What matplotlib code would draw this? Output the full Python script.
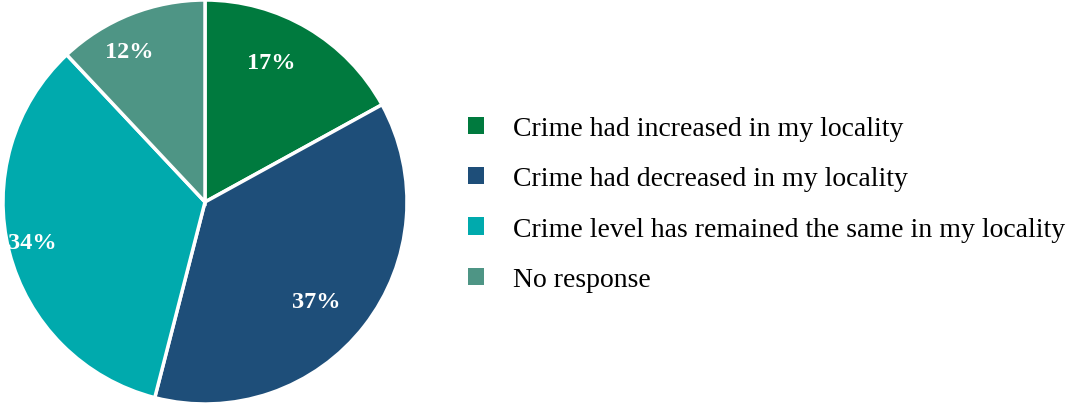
import matplotlib
matplotlib.use('Agg')
import matplotlib.pyplot as plt
from matplotlib.patches import Patch

labels = ['Crime had increased in my locality',
          'Crime had decreased in my locality',
          'Crime level has remained the same in my locality',
          'No response']
values = [17, 37, 34, 12]
colors = ['#007A3E', '#1E4E79', '#00AAAD', '#4E9585']

plt.rcParams['font.family'] = ['Liberation Serif', 'DejaVu Serif']

fig = plt.figure(figsize=(10.67, 4.06), dpi=100)
ax = fig.add_axes([3 / 1067, 1 / 406, 404 / 1067, 404 / 406])

wedges, texts, autotexts = ax.pie(
    values, colors=colors, startangle=90, counterclock=False,
    autopct='%1.0f%%', pctdistance=0.8,
    wedgeprops=dict(edgecolor='white', linewidth=2.5),
    textprops=dict(color='white', fontsize=17.5, fontweight='bold'))
# labels sit a bit left of the wedge centre line in the original
for t in autotexts:
    x, y = t.get_position()
    t.set_position((x - 0.08, y))
ax.set_xlim(-1.0, 1.0)
ax.set_ylim(-1.0, 1.0)
ax.set_aspect('equal')

handles = [Patch(facecolor=c, edgecolor='none') for c in colors]
fig.legend(handles, labels, loc='center left', bbox_to_anchor=(468 / 1067, 0.495),
           frameon=False, fontsize=20, borderpad=0, borderaxespad=0,
           handlelength=0.58, handleheight=0.58, handletextpad=1.05,
           labelspacing=0.91)

fig.savefig('out.png', dpi=100)
